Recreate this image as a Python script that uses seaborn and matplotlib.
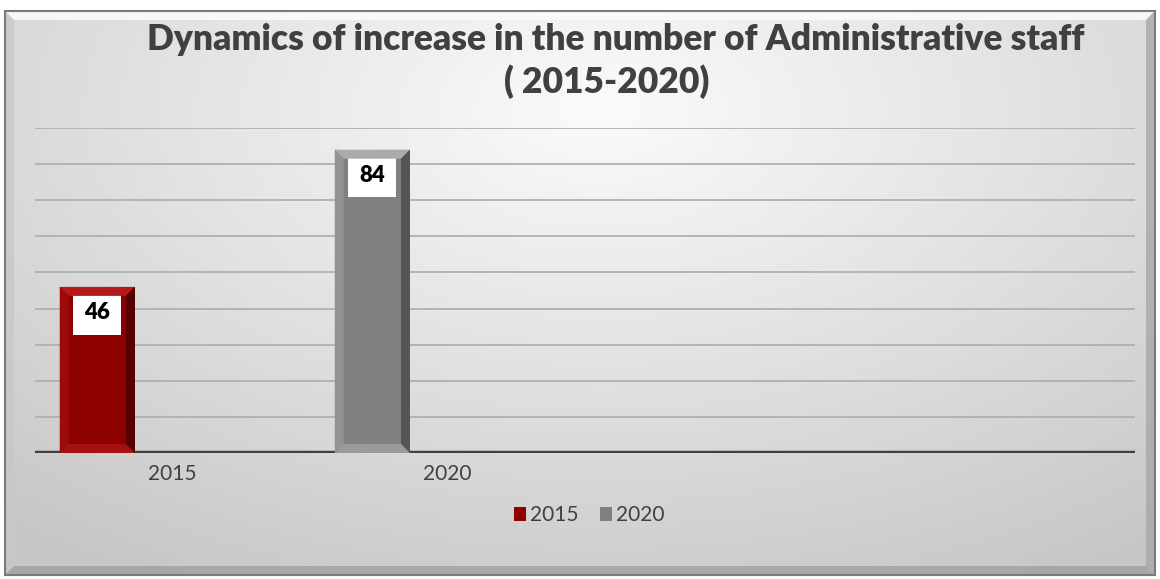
import numpy as np
import pandas as pd
import matplotlib
matplotlib.use("Agg")
import matplotlib.pyplot as plt
import seaborn as sns
from matplotlib.patches import Polygon, Patch, Rectangle

# Data
years = ["2015", "2020"]
staff = [46, 84]
bar_colors = ["#8c0000", "#808080"]
category_order = ["2015", "2020", "c3", "c4"]
tick_labels = ["2015", "2020", "", ""]
slots = ["first", "second", "third"]
title_lines = ["Dynamics of increase in the number of Administrative staff", "( 2015-2020)"]

sns.set_theme(style="white")
plt.rcParams["font.family"] = ["Lato", "DejaVu Sans"]

W, H = 1160, 579
fig = plt.figure(figsize=(W / 100, H / 100), dpi=100)

# Background panel with soft radial shading
bg = fig.add_axes([0, 0, 1, 1], zorder=-10)
bg.set_axis_off()
yy, xx = np.mgrid[0:H, 0:W]
r = np.sqrt(((xx - 600) / 900.0) ** 2 + ((yy - 110) / 520.0) ** 2)
shade = np.clip(0.985 - 0.2 * r, 0.78, 1.0)
img = np.dstack([shade, shade, shade])
img[:10, :, :] = 1.0
img[:, :5, :] = 1.0
img[:, 1156:, :] = 1.0
img[575:, :, :] = 1.0
bg.imshow(img, extent=(0, W, H, 0), aspect="auto", interpolation="bilinear")
bg.set_xlim(0, W)
bg.set_ylim(H, 0)
# bevelled border of the chart panel
bev = 9
x0f, y0f, x1f, y1f = 5, 11, 1155, 575
bg.add_patch(Polygon([(x0f, y0f), (x1f, y0f), (x1f - bev, y0f + bev), (x0f + bev, y0f + bev)],
                     closed=True, facecolor="#fafafa", edgecolor="none", alpha=0.9))
bg.add_patch(Polygon([(x0f, y0f), (x0f + bev, y0f + bev), (x0f + bev, y1f - bev), (x0f, y1f)],
                     closed=True, facecolor="#c8c8c8", edgecolor="none", alpha=0.8))
bg.add_patch(Polygon([(x1f, y0f), (x1f, y1f), (x1f - bev, y1f - bev), (x1f - bev, y0f + bev)],
                     closed=True, facecolor="#a8a8a8", edgecolor="none", alpha=0.8))
bg.add_patch(Polygon([(x0f, y1f), (x1f, y1f), (x1f - bev, y1f - bev), (x0f + bev, y1f - bev)],
                     closed=True, facecolor="#a0a0a0", edgecolor="none", alpha=0.8))
bg.add_patch(Rectangle((x0f, y0f), x1f - x0f, y1f - y0f, fill=False,
                       edgecolor="#7a7a7a", linewidth=1.5))

# Title (two lines)
fig.text(0.531, 1 - 40 / H, title_lines[0], ha="center", va="center", fontsize=25.5,
         fontweight="heavy", color="#404040")
fig.text(0.523, 1 - 82 / H, title_lines[1], ha="center", va="center", fontsize=25.5,
         fontweight="heavy", color="#404040")

# Plot area
ax = fig.add_axes([35 / W, (H - 453) / H, 1100 / W, (453 - 128) / H])
ax.patch.set_alpha(0)

df = pd.DataFrame({"year": years, "staff": staff, "slot": ["first"] * len(years)})
sns.barplot(data=df, x="year", y="staff", hue="slot", order=category_order,
            hue_order=slots, width=0.82, dodge=True, palette=["#8c0000"] * 3,
            legend=False, ax=ax, zorder=3, errorbar=None)

ax.set_xlim(-0.5, 3.5)
ax.set_ylim(0, 90)
ax.set_yticks(np.arange(10, 91, 10))
ax.set_yticklabels([])
ax.tick_params(axis="y", length=0)
ax.grid(axis="y", color="#b0b0b0", linewidth=1.3, zorder=0)
ax.set_xticks(range(len(category_order)))
ax.set_xticklabels(tick_labels, fontsize=15, color="#404040")
ax.tick_params(axis="x", length=0, pad=8)
ax.set_xlabel("")
ax.set_ylabel("")
for s in ax.spines.values():
    s.set_visible(False)
ax.axhline(0, color="#404040", linewidth=3.2, zorder=5)

fig.canvas.draw()

bevel_shades = {
    "#8c0000": ("#b31a1a", "#9e0a0a", "#560000", "#a51010"),
    "#808080": ("#ababab", "#939393", "#555555", "#9a9a9a"),
}
bars = [p for p in ax.patches if p.get_height() > 0]
for patch, color, val in zip(bars, bar_colors, staff):
    patch.set_facecolor(color)
    patch.set_edgecolor("none")
    bb = patch.get_window_extent()
    x0, y0, x1, y1 = bb.x0, bb.y0, bb.x1, bb.y1
    b = 9
    top, left, right, bottom = bevel_shades[color]
    polys = [
        ([(x0, y1), (x1, y1), (x1 - b, y1 - b), (x0 + b, y1 - b)], top),
        ([(x0, y1), (x0 + b, y1 - b), (x0 + b, y0 + b), (x0, y0)], left),
        ([(x1, y1), (x1, y0), (x1 - b, y0 + b), (x1 - b, y1 - b)], right),
        ([(x0, y0), (x1, y0), (x1 - b, y0 + b), (x0 + b, y0 + b)], bottom),
    ]
    for pts, c in polys:
        poly = Polygon(pts, closed=True, facecolor=c, edgecolor="none",
                       transform=None, zorder=4)
        fig.add_artist(poly)
    cx = patch.get_x() + patch.get_width() / 2
    ax.annotate(f"{val}", xy=(cx, val), xytext=(0, -26), textcoords="offset pixels",
                ha="center", va="center", fontsize=16, fontweight="heavy", color="black",
                bbox=dict(boxstyle="square,pad=0.5", facecolor="white", edgecolor="none"),
                zorder=6)

# Legend
handles = [Patch(facecolor=c, edgecolor="none", label=y) for y, c in zip(years, bar_colors)]
fig.legend(handles=handles, loc="center", bbox_to_anchor=(0.508, 0.110), ncol=2,
           frameon=False, fontsize=15, handlelength=0.6, handleheight=0.6,
           handletextpad=0.2, columnspacing=1.0, labelcolor="#404040")

fig.savefig("out.png", dpi=100)
